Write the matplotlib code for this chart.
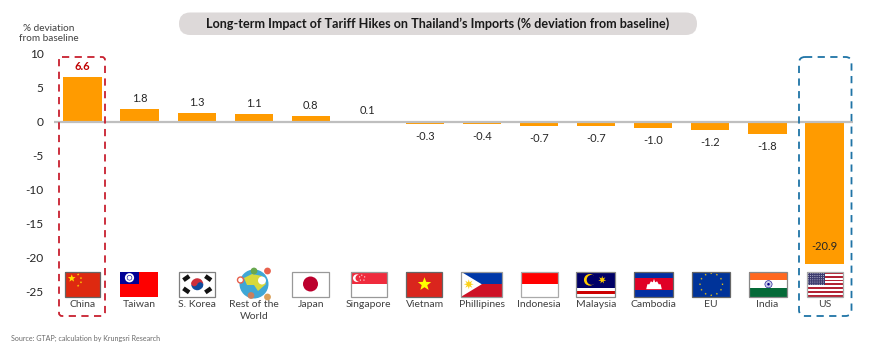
import numpy as np
import matplotlib
matplotlib.use("Agg")
import matplotlib.pyplot as plt
from matplotlib.patches import Rectangle, Circle, Polygon, FancyBboxPatch, Wedge

categories = ["China", "Taiwan", "S. Korea", "Rest of the\nWorld", "Japan", "Singapore", "Vietnam",
              "Phillipines", "Indonesia", "Malaysia", "Cambodia", "EU", "India", "US"]
values = [6.6, 1.8, 1.3, 1.1, 0.8, 0.1, -0.3, -0.4, -0.7, -0.7, -1.0, -1.2, -1.8, -20.9]
labels = ["6.6", "1.8", "1.3", "1.1", "0.8", "0.1", "-0.3", "-0.4", "-0.7", "-0.7", "-1.0", "-1.2", "-1.8", "-20.9"]
yticks = [10, 5, 0, -5, -10, -15, -20, -25]

W, H = 870, 358
plt.rcParams["font.family"] = ["Lato", "DejaVu Sans"]
plt.rcParams["axes.unicode_minus"] = False
fig = plt.figure(figsize=(W / 100, H / 100), dpi=100)
ax = fig.add_axes([54 / W, 1 - 291.5 / H, 799 / W, 238 / H])
x = np.arange(len(values))
ax.bar(x, values, width=0.67, color="#FF9B00", zorder=2)
ax.set_xlim(-0.5, 13.5)
ax.set_ylim(-25, 10)
ax.axhline(0, color="#BFBFBF", lw=1.6, zorder=3)
for s in ax.spines.values():
    s.set_visible(False)
ax.set_yticks(yticks)
ax.set_xticks(x)
ax.set_xticklabels(categories, fontsize=7.5, color="#404040", linespacing=1.35)
ax.tick_params(axis="x", length=0, pad=6.2)
ax.tick_params(axis="y", length=0, pad=7.5, labelsize=8.6, labelcolor="#262626")

for i, (v, t) in enumerate(zip(values, labels)):
    if i == 0:
        ax.annotate(t, (i, v), xytext=(0, 7.5), textcoords="offset points", ha="center", va="center",
                    fontsize=8, fontweight="bold", color="#C00000")
    elif i == len(values) - 1:
        ax.annotate(t, (i, v), xytext=(0, 12), textcoords="offset points", ha="center", va="center",
                    fontsize=8, color="#262626")
    elif v > 0:
        ax.annotate(t, (i, v), xytext=(0, 7.5), textcoords="offset points", ha="center", va="center",
                    fontsize=8, color="#262626")
    else:
        ax.annotate(t, (i, v), xytext=(0, -9), textcoords="offset points", ha="center", va="center",
                    fontsize=8, color="#262626")

# overlay in pixel coordinates for decoration
ov = fig.add_axes([0, 0, 1, 1], zorder=5)
ov.set_xlim(0, W)
ov.set_ylim(H, 0)
ov.axis("off")
ov.patch.set_alpha(0)

ov.add_patch(FancyBboxPatch((179, 12.5), 518, 22.5, boxstyle="round,pad=0,rounding_size=11.2",
                            fc="#DDD9D9", ec="none"))
ov.text(438, 24, "Long-term Impact of Tariff Hikes on Thailand\u2019s Imports (% deviation from baseline)",
        ha="center", va="center", fontsize=9.05, fontweight="bold", color="#1a1a1a")
ov.text(49, 33.5, "% deviation\nfrom baseline", ha="center", va="center", fontsize=7.2, color="#404040", linespacing=1.2)
ov.text(11, 338.5, "Source: GTAP; calculation by Krungsri Research", ha="left", va="center", fontsize=5.1, color="#6b6b6b")

ov.add_patch(FancyBboxPatch((59, 57), 46, 259, boxstyle="round,pad=0,rounding_size=3", fc="none", ec="#C8202F",
                            lw=1.3, ls=(0, (4, 3))))
ov.add_patch(FancyBboxPatch((799, 57), 52.5, 259, boxstyle="round,pad=0,rounding_size=6", fc="none", ec="#1F74A6",
                            lw=1.3, ls=(0, (4, 3))))

FY0, FY1 = 272, 296.5


def frame(x0, x1, y0=FY0, y1=FY1, ec="#7f7f7f"):
    ov.add_patch(Rectangle((x0, y0), x1 - x0, y1 - y0, fc="none", ec=ec, lw=0.9, zorder=6))


def mk(x0, x1, y0=FY0, y1=FY1):
    w, h = x1 - x0, y1 - y0
    def P(u, v):
        return (x0 + u * w, y0 + v * h)
    def R(u0, v0, u1, v1, c):
        ov.add_patch(Rectangle(P(u0, v0), (u1 - u0) * w, (v1 - v0) * h, fc=c, ec="none"))
    def C(u, v, r, c, ec="none"):
        ov.add_patch(Circle(P(u, v), r, fc=c, ec=ec, lw=0.4))
    def G(pts, c):
        ov.add_patch(Polygon([P(*p) for p in pts], closed=True, fc=c, ec="none"))
    return P, R, C, G


def star(cx, cy, r, c, n=5):
    a = np.linspace(-np.pi / 2, 1.5 * np.pi, 2 * n, endpoint=False)
    rr = np.where(np.arange(2 * n) % 2 == 0, r, r * 0.42)
    ov.add_patch(Polygon(np.c_[cx + rr * np.cos(a), cy + rr * np.sin(a)], closed=True, fc=c, ec="none"))


# China
P, R, C, G = mk(65, 100.5)
R(0, 0, 1, 1, "#DE2910")
star(*P(.19, .26), 4, "#FFDE00")
for u, v in [(.37, .1), (.45, .25), (.45, .42), (.37, .56)]:
    star(*P(u, v), 1.3, "#FFDE00")
frame(65, 100.5, ec="#666666")
# Taiwan
P, R, C, G = mk(120, 158, 271.5, 296.5)
R(0, 0, 1, 1, "#FE0000")
R(0, 0, .5, .5, "#000095")
C(.25, .25, 4.6, "#FFFFFF")
C(.25, .25, 2.7, "#000095")
C(.25, .25, 2.1, "#FFFFFF")
# S. Korea
P, R, C, G = mk(179, 215.5)
R(0, 0, 1, 1, "#FFFFFF")
cx, cy = P(.5, .5)
ov.add_patch(Wedge((cx, cy), 6, 175, 355, fc="#CD2E3A", ec="none"))
ov.add_patch(Wedge((cx, cy), 6, -5, 175, fc="#0F4C9C", ec="none"))
C(.42, .46, 3, "#CD2E3A")
C(.58, .54, 3, "#0F4C9C")
for u, v, ang in [(.2, .25, -35), (.8, .25, 35), (.2, .75, 35), (.8, .75, -35)]:
    ov.add_patch(Rectangle((P(u, v)[0] - 3.5, P(u, v)[1] - 2.2), 7, 4.4, angle=ang, rotation_point="center",
                           fc="#111111", ec="none"))
frame(179, 215.5)
# Rest of the world
ov.add_patch(Circle((254, 284), 14.5, fc="#3FA7D6", ec="none"))
ov.add_patch(Polygon([(244, 278), (252, 274), (262, 276), (266, 284), (258, 291), (254, 285), (247, 285)],
                     closed=True, fc="#D7D93B", ec="none"))
ov.add_patch(Circle((262, 280.5), 4, fc="#FFFFFF", ec="none"))
ov.add_patch(Circle((254, 271), 3.4, fc="#69A84F", ec="none"))
ov.add_patch(Circle((267.5, 271), 3.4, fc="#E8604C", ec="none"))
ov.add_patch(Circle((240.5, 280), 3, fc="#FFFFFF", ec="#E8604C", lw=1))
ov.add_patch(Circle((251, 295.5), 3.4, fc="#C97F5E", ec="none"))
ov.add_patch(Circle((267.5, 297), 3.4, fc="#D9A05B", ec="none"))
# Japan
P, R, C, G = mk(292, 329, 271.5, 296.5)
R(0, 0, 1, 1, "#FFFFFF")
C(.5, .5, 7.5, "#BC002D")
frame(292, 329, 271.5, 296.5, ec="#999999")
# Singapore
P, R, C, G = mk(351, 387)
R(0, 0, 1, .5, "#EF2B3D")
R(0, .5, 1, 1, "#FFFFFF")
C(.16, .25, 3.8, "#FFFFFF")
C(.22, .25, 3.4, "#EF2B3D")
for u, v in [(.3, .13), (.38, .2), (.36, .33), (.26, .33), (.24, .2)]:
    C(u, v, .6, "#FFFFFF")
frame(351, 387, ec="#999999")
# Vietnam
P, R, C, G = mk(406.5, 442.5)
R(0, 0, 1, 1, "#DA251D")
star(*P(.5, .5), 7, "#FFFF00")
frame(406.5, 442.5, ec="#666666")
# Philippines
P, R, C, G = mk(461.5, 502)
R(0, 0, 1, .5, "#0038A8")
R(0, .5, 1, 1, "#CE1126")
G([(0, 0), (.5, .5), (0, 1)], "#FFFFFF")
star(*P(.18, .5), 5, "#FCD116", n=8)
frame(461.5, 502, ec="#999999")
# Indonesia
P, R, C, G = mk(521, 558, 271.5, 296.5)
R(0, 0, 1, .5, "#FF0000")
R(0, .5, 1, 1, "#FFFFFF")
frame(521, 558, 271.5, 296.5, ec="#aaaaaa")
# Malaysia
P, R, C, G = mk(576.5, 615.5)
for k in range(9):
    R(0, k / 9, 1, (k + 1) / 9, "#CC0001" if k % 2 == 1 else "#FFFFFF")
R(0, 0, 1, 6 / 9, "#010066")
C(.34, .32, 5.8, "#FFCC00")
C(.39, .32, 5, "#010066")
star(*P(.66, .32), 4, "#FFCC00", n=7)
frame(576.5, 615.5, ec="#888888")
# Cambodia
P, R, C, G = mk(634.5, 673.5)
R(0, 0, 1, .25, "#032EA1")
R(0, .25, 1, .75, "#E00025")
R(0, .75, 1, 1, "#032EA1")
G([(.3, .7), (.33, .5), (.38, .5), (.42, .38), (.47, .42), (.5, .28), (.53, .42), (.58, .38), (.62, .5), (.67, .5),
   (.7, .7)], "#FFFFFF")
frame(634.5, 673.5, ec="#666666")
# EU
P, R, C, G = mk(692.5, 730)
R(0, 0, 1, 1, "#003399")
for a in np.linspace(0, 2 * np.pi, 12, endpoint=False):
    star(*P(.5 + .3 * np.cos(a), .5 + .45 * np.sin(a)), 1.2, "#FFCC00")
frame(692.5, 730, ec="#666666")
# India
P, R, C, G = mk(749.5, 787.5)
R(0, 0, 1, 1 / 3, "#FF6820")
R(0, 1 / 3, 1, 2 / 3, "#FFFFFF")
R(0, 2 / 3, 1, 1, "#046A38")
C(.5, .5, 3.6, "#C9CCE8", ec="#06038D")
C(.5, .5, 1.3, "#06038D")
frame(749.5, 787.5, ec="#888888")
# US
P, R, C, G = mk(807, 843)
for k in range(13):
    R(0, k / 13, 1, (k + 1) / 13, "#B22234" if k % 2 == 0 else "#FFFFFF")
R(0, 0, .5, 7 / 13, "#3C3B6E")
for k in range(6):
    for m in range(8):
        C(.04 + m * .06, .05 + k * .09, .45, "#E8E8F5")
frame(807, 843, ec="#aaaaaa")

fig.savefig("out.png", dpi=100)
